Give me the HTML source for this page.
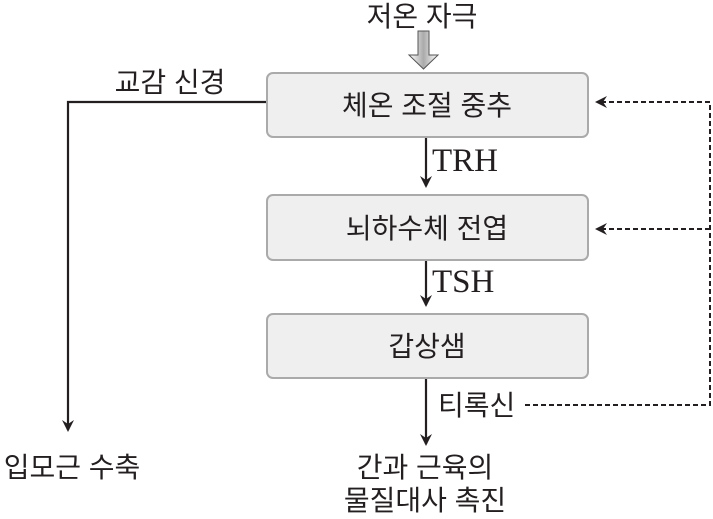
<!DOCTYPE html>
<html><head><meta charset="utf-8"><style>
html,body{margin:0;padding:0;background:#fff;}
svg{display:block;}
text{font-family:"Liberation Sans","Noto Sans CJK KR",sans-serif;fill:#231f20;}
.s{font-family:"Liberation Serif","Noto Serif CJK SC",serif;}
</style></head><body>
<svg width="713" height="519" viewBox="0 0 713 519" xmlns="http://www.w3.org/2000/svg">
<defs>
<linearGradient id="g" x1="0" y1="0" x2="1" y2="0">
<stop offset="0" stop-color="#fff"/><stop offset="0.5" stop-color="#aaa"/><stop offset="1" stop-color="#fff"/>
</linearGradient>
<marker id="a" markerWidth="12" markerHeight="12" refX="10" refY="6" orient="auto" markerUnits="userSpaceOnUse">
<path d="M0,0 L12,6 L0,12 L4,6 Z" fill="#231f20"/></marker>
</defs>
<text x="422" y="26" font-size="28" text-anchor="middle">저온 자극</text>
<path d="M418,31 H429 V55 H438 L423.5,69 L409,55 H418 Z" fill="url(#g)" stroke="#555" stroke-width="1"/>
<rect x="267" y="73" width="321" height="64" rx="6" fill="#efefef" stroke="#aaa" stroke-width="2"/>
<rect x="267" y="195" width="321" height="65" rx="6" fill="#efefef" stroke="#aaa" stroke-width="2"/>
<rect x="267" y="314" width="321" height="64" rx="6" fill="#efefef" stroke="#aaa" stroke-width="2"/>
<text x="427" y="115" font-size="28" text-anchor="middle">체온 조절 중추</text>
<text x="427" y="238" font-size="28" text-anchor="middle">뇌하수체 전엽</text>
<text x="427" y="356" font-size="28" text-anchor="middle">갑상샘</text>
<g stroke="#231f20" stroke-width="2.2" fill="none">
<line x1="426" y1="138" x2="426" y2="186" marker-end="url(#a)"/>
<line x1="426" y1="261" x2="426" y2="305" marker-end="url(#a)"/>
<line x1="426" y1="379" x2="426" y2="444" marker-end="url(#a)"/>
<polyline points="266,102 68,102 68,430" marker-end="url(#a)"/>
</g>
<g stroke="#231f20" stroke-width="2" fill="none" stroke-dasharray="5,3">
<line x1="710" y1="102" x2="597" y2="102" marker-end="url(#a)"/>
<line x1="710" y1="229" x2="597" y2="229" marker-end="url(#a)"/>
<polyline points="525,405 710,405 710,102"/>
</g>
<text x="432" y="171" font-size="33" class="s">TRH</text>
<text x="432" y="292" font-size="33" class="s">TSH</text>
<text x="438" y="415" font-size="28">티록신</text>
<text x="170" y="92" font-size="28" text-anchor="middle">교감 신경</text>
<text x="72" y="477" font-size="28" text-anchor="middle">입모근 수축</text>
<text x="425" y="477" font-size="28" text-anchor="middle">간과 근육의</text>
<text x="425" y="510" font-size="28" text-anchor="middle">물질대사 촉진</text>
</svg>
</body></html>
